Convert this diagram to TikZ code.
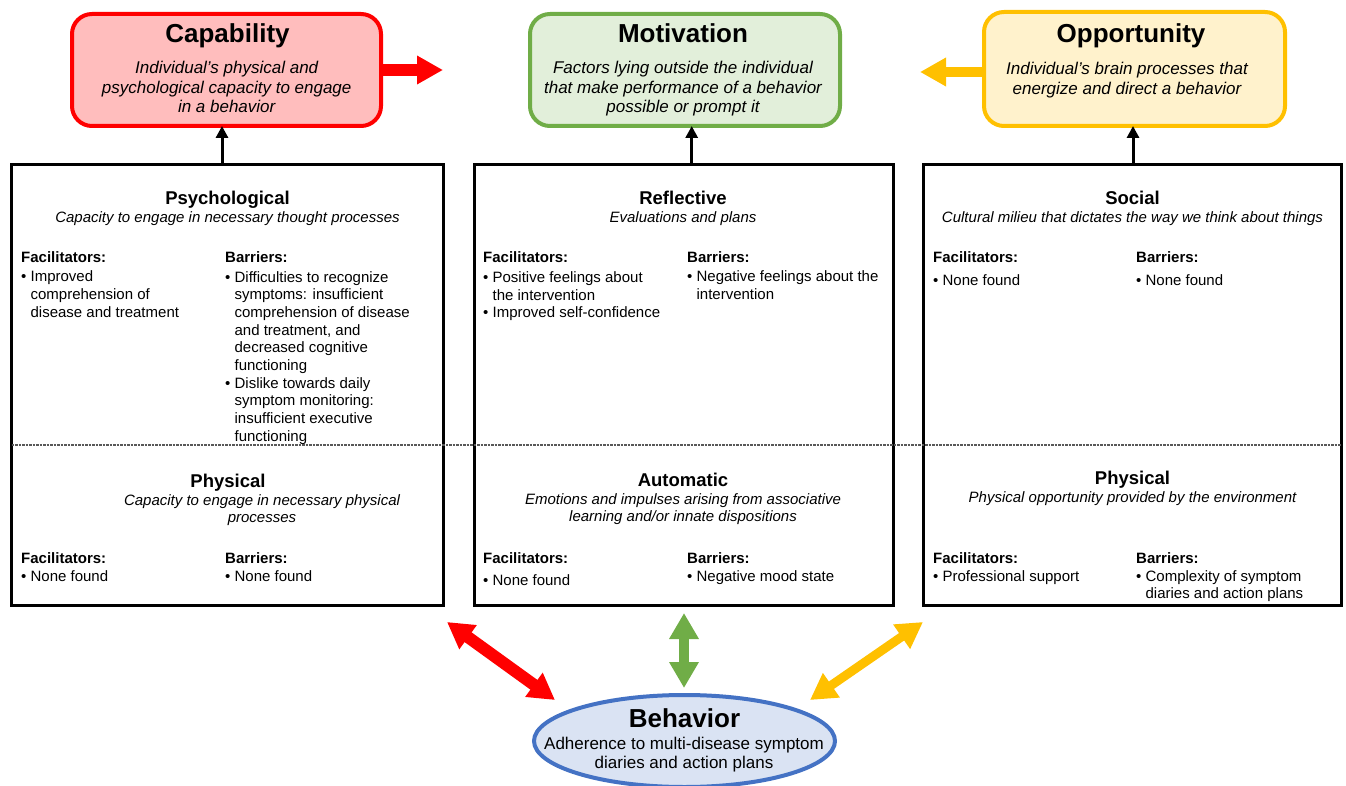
\documentclass[tikz,border=0pt]{standalone}
\usepackage{fontspec}
\setmainfont{Liberation Sans}
\usetikzlibrary{arrows.meta,shapes.geometric}
\definecolor{capD}{HTML}{FF0000}
\definecolor{capF}{HTML}{FFBDBD}
\definecolor{motD}{HTML}{70AD47}
\definecolor{motF}{HTML}{E2EFDA}
\definecolor{oppD}{HTML}{FFC000}
\definecolor{oppF}{HTML}{FFF2CC}
\definecolor{behD}{HTML}{4472C4}
\definecolor{behF}{HTML}{DAE3F3}
\newcommand{\bulind}{\hphantom{\textbullet\ }}
% note: multi-line nodes are placed at the baseline of their LAST line
\tikzset{
  topbox/.style={draw, rounded corners=20pt, line width=4pt, inner sep=0pt, outer sep=0pt},
  bigbox/.style={draw, line width=3pt, inner sep=0pt, outer sep=0pt},
  ttl/.style={font=\fontsize{26}{30}\selectfont\bfseries, anchor=base, inner sep=0pt},
  tbody/.style={font=\fontsize{17}{19.5}\selectfont\itshape, align=center, anchor=base, inner sep=0pt},
  bbody/.style={font=\fontsize{17}{19.5}\selectfont, align=center, anchor=base, inner sep=0pt},
  head/.style={font=\fontsize{18.5}{22}\selectfont\bfseries, anchor=base, inner sep=0pt},
  sub/.style={font=\fontsize{15}{17.7}\selectfont\itshape, align=center, anchor=base, inner sep=0pt},
  lbl/.style={font=\fontsize{15}{17.7}\selectfont\bfseries, anchor=base west, inner sep=0pt},
  itm/.style={font=\fontsize{15}{17.7}\selectfont, anchor=base west, align=left, inner sep=0pt},
  uparrow/.style={draw=black, line width=3pt, -{Triangle[length=12pt,width=12pt]}},
  fatarrow/.style={line width=12pt, -{Triangle[length=26pt,width=27pt]}},
  dblarrow/.style={line width=11pt, {Triangle[length=26pt,width=28pt]}-{Triangle[length=26pt,width=28pt]}},
  dashline/.style={draw=black!65, line width=1.2pt, dash pattern=on 2.5pt off 1pt},
}
\begin{document}
\begin{tikzpicture}[x=1pt,y=-1pt]
\useasboundingbox (0,0) rectangle (1346,786);

% top boxes
\node[topbox, draw=capD, fill=capF, minimum width=309pt, minimum height=112pt] (cap) at (226.5,70) {};
\node[topbox, draw=motD, fill=motF, minimum width=310pt, minimum height=112pt] (mot) at (685,70) {};
\node[topbox, draw=oppD, fill=oppF, minimum width=301pt, minimum height=114pt] (opp) at (1134.5,69) {};

\node[ttl] (capT) at (227.5,43) {Capability};
\node[tbody] (capB) at (226.7,113) {Individual’s physical and\\psychological capacity to engage\\in a behavior};
\node[ttl] (motT) at (683,43) {Motivation};
\node[tbody] (motB) at (683,113) {Factors lying outside the individual\\that make performance of a behavior\\possible or prompt it};
\node[ttl] (oppT) at (1131,43) {Opportunity};
\node[tbody] (oppB) at (1127,94.5) {Individual’s brain processes that\\energize and direct a behavior};

% horizontal fat arrows
\coordinate (capTip) at (443,70);
\coordinate (oppTip) at (920,72);
\draw[fatarrow, draw=capD] (cap.east) -- (capTip);
\draw[fatarrow, draw=oppD, line width=10pt] (oppTip -| opp.west) -- (oppTip);

% big boxes
\node[bigbox, minimum width=432pt, minimum height=441pt] (capbox) at (227.5,385) {};
\node[bigbox, minimum width=419pt, minimum height=441pt] (motbox) at (684,385) {};
\node[bigbox, minimum width=418pt, minimum height=441pt] (oppbox) at (1132.5,385) {};

\coordinate (dl) at (0,445);
\draw[dashline] (capbox.west |- dl) -- (oppbox.east |- dl);

% up arrows
\draw[uparrow] ([xshift=-5.5pt]capbox.north) -- ([xshift=-4.5pt]cap.south);
\draw[uparrow] ([xshift=7.7pt]motbox.north) -- ([xshift=6.7pt]mot.south);
\draw[uparrow] ([xshift=0.5pt]oppbox.north) -- ([xshift=-1.5pt]opp.south);

% left upper
\node[head] (psyH) at (227.5,205) {Psychological};
\node[sub] (psyS) at (227.5,223) {Capacity to engage in necessary thought processes};
\node[lbl] (psyFL) at (21,263) {Facilitators:};
\node[itm] (psyF) at (21,317.4) {\textbullet\ Improved\\\bulind comprehension of\\\bulind disease and treatment};
\node[lbl] (psyBL) at (225,263) {Barriers:};
\node[itm] (psyB) at (225,441.3) {\textbullet\ Difficulties to recognize\\\bulind symptoms: insufficient\\\bulind comprehension of disease\\\bulind and treatment, and\\\bulind decreased cognitive\\\bulind functioning\\\textbullet\ Dislike towards daily\\\bulind symptom monitoring:\\\bulind insufficient executive\\\bulind functioning};

% left lower
\node[head] (phyH) at (228,487) {Physical};
\node[sub] (phyS) at (262,522.7) {Capacity to engage in necessary physical\\processes};
\node[lbl] (phyFL) at (21,563) {Facilitators:};
\node[itm] (phyF) at (21,581) {\textbullet\ None found};
\node[lbl] (phyBL) at (225,563) {Barriers:};
\node[itm] (phyB) at (225,581) {\textbullet\ None found};

% middle upper
\node[head] (refH) at (683,205) {Reflective};
\node[sub] (refS) at (683,223) {Evaluations and plans};
\node[lbl] (refFL) at (483,263) {Facilitators:};
\node[itm] (refF) at (483,317.8) {\textbullet\ Positive feelings about\\\bulind the intervention\\\textbullet\ Improved self-confidence};
\node[lbl] (refBL) at (687,263) {Barriers:};
\node[itm] (refB) at (687,299.7) {\textbullet\ Negative feelings about the\\\bulind intervention};

% middle lower
\node[head] (autH) at (683,486) {Automatic};
\node[sub] (autS) at (683,521.7) {Emotions and impulses arising from associative\\learning and/or innate dispositions};
\node[lbl] (autFL) at (483,563) {Facilitators:};
\node[itm] (autF) at (483,585) {\textbullet\ None found};
\node[lbl] (autBL) at (687,563) {Barriers:};
\node[itm] (autB) at (687,581) {\textbullet\ Negative mood state};

% right upper
\node[head] (socH) at (1132.5,205) {Social};
\node[sub] (socS) at (1132.5,223) {Cultural milieu that dictates the way we think about things};
\node[lbl] (socFL) at (933,263) {Facilitators:};
\node[itm] (socF) at (933,286) {\textbullet\ None found};
\node[lbl] (socBL) at (1136,263) {Barriers:};
\node[itm] (socB) at (1136,286) {\textbullet\ None found};

% right lower
\node[head] (envH) at (1132.5,484) {Physical};
\node[sub] (envS) at (1132.5,502) {Physical opportunity provided by the environment};
\node[lbl] (envFL) at (933,563) {Facilitators:};
\node[itm] (envF) at (933,581) {\textbullet\ Professional support};
\node[lbl] (envBL) at (1136,563) {Barriers:};
\node[itm] (envB) at (1136,598.7) {\textbullet\ Complexity of symptom\\\bulind diaries and action plans};

% behavior
\node[ellipse, draw=behD, fill=behF, line width=4pt, minimum width=301pt, minimum height=92pt, inner sep=0pt] (beh) at (684.5,741) {};
\node[ttl] (behT) at (684.5,727) {Behavior};
\node[bbody] (behB) at (684,768.5) {Adherence to multi-disease symptom\\diaries and action plans};

% double arrows
\coordinate (r1) at (447,622);
\coordinate (r2) at (555,700);
\coordinate (g1) at (684,613);
\coordinate (g2) at (684,688);
\coordinate (y1) at (923,622);
\coordinate (y2) at (810,700);
\draw[dblarrow, draw=capD, line width=12pt] (r1) -- (r2);
\draw[dblarrow, draw=motD, line width=10pt] (g1) -- (g2);
\draw[dblarrow, draw=oppD, line width=9pt] (y1) -- (y2);
\end{tikzpicture}
\end{document}
